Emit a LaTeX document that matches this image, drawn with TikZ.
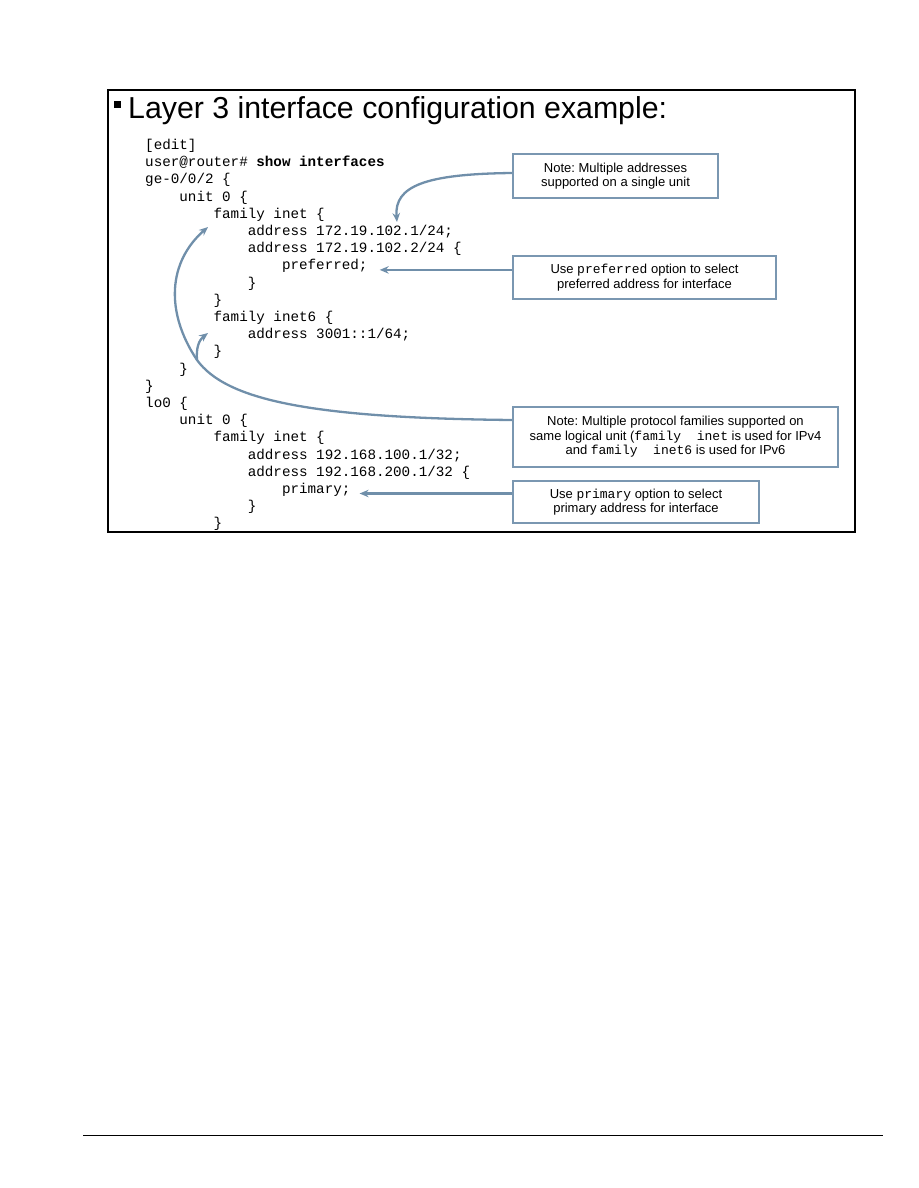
\documentclass[tikz,border=0pt]{standalone}
\usepackage{fontspec}
\setmainfont{Liberation Sans}
\newfontfamily\codefont{Liberation Mono}
\usetikzlibrary{arrows.meta,positioning}
\frenchspacing

\definecolor{noteblue}{RGB}{122,151,177}
\definecolor{arrowblue}{RGB}{112,143,170}

\tikzset{
  codeline/.style={anchor=base west, inner sep=0pt,
    font=\codefont\fontsize{14.25}{17}\selectfont},
  callout/.style={draw=noteblue, line width=2.2pt, inner sep=0pt, align=center,
    font=\fontsize{13}{14.5}\selectfont},
  pointer/.style={draw=arrowblue, line width=2.3pt,
    -{Stealth[length=9pt,width=7.5pt]}},
}

\begin{document}
\begin{tikzpicture}[x=1pt,y=-1pt]
  \useasboundingbox (0,0) rectangle (918,1188);

  % slide frame and heading
  \draw [line width=1.2pt] (108,90) rectangle (855,532);
  \fill (114,101) rectangle (121,108);
  \node [anchor=base west, inner sep=0pt, font=\fontsize{30.3}{33}\selectfont]
    (heading) at (128,119) {Layer 3 interface configuration example:};

  % configuration listing
  \begin{scope}
    \clip (108,90) rectangle (855,532);
    \foreach \n/\ind/\txt in {
      1/0/{[edit]},
      2/0/{user@router\# \textbf{show interfaces}},
      3/0/{ge-0/0/2 \{},
      4/1/{unit 0 \{},
      5/2/{family inet \{},
      6/3/{address 172.19.102.1/24;},
      7/3/{address 172.19.102.2/24 \{},
      8/4/{preferred;},
      9/3/{\}},
      10/2/{\}},
      11/2/{family inet6 \{},
      12/3/{address 3001::1/64;},
      13/2/{\}},
      14/1/{\}},
      15/0/{\}},
      16/0/{lo0 \{},
      17/1/{unit 0 \{},
      18/2/{family inet \{},
      19/3/{address 192.168.100.1/32;},
      20/3/{address 192.168.200.1/32 \{},
      21/4/{primary;},
      22/3/{\}},
      23/2/{\}}}
      \node [codeline] (line\n) at ({145+34.2*\ind},{149.5+17.2*(\n-1)}) {\txt};
  \end{scope}

  % callouts
  \node [callout, minimum width=205pt, minimum height=44pt] (addrnote) at (615.5,176)
    {Note: Multiple addresses\\supported on a single unit};
  \node [callout, minimum width=263pt, minimum height=43pt] (prefnote) at (644.5,277.5)
    {Use {\codefont preferred} option to select\\preferred address for interface};
  \node [callout, minimum width=325pt, minimum height=60pt] (famnote) at (675.5,437)
    {Note: Multiple protocol families supported on\\
     same logical unit ({\codefont family\ \ inet} is used for IPv4\\
     and {\codefont family\ \ inet6} is used for IPv6};
  \node [callout, minimum width=246pt, minimum height=42pt] (primnote) at (636,502)
    {Use {\codefont primary} option to select\\primary address for interface};

  % pointers
  \coordinate (addrtip) at (397,222);
  \coordinate (fork) at (197,360);
  \coordinate (inettip) at (208,227);
  \coordinate (inetsixtip) at (208,333);

  \draw [pointer] ([yshift=3pt]addrnote.west) .. controls (425,174) and (394,186) .. (addrtip);
  \draw [pointer] (prefnote.west |- line8.base east) -- ([xshift=12pt]line8.base east);
  \draw [pointer] (primnote.west |- line21.base east) -- ([xshift=9pt]line21.base east);
  \draw [pointer] ([yshift=17pt]famnote.west) .. controls (310,418) and (226,400) .. (fork)
    .. controls (165,312) and (168,262) .. (inettip);
  \draw [pointer] (fork) .. controls (196,348) and (199,340) .. (inetsixtip);

  % page rule
  \draw [line width=1pt] (83,1135) -- (883,1135);
\end{tikzpicture}
\end{document}
